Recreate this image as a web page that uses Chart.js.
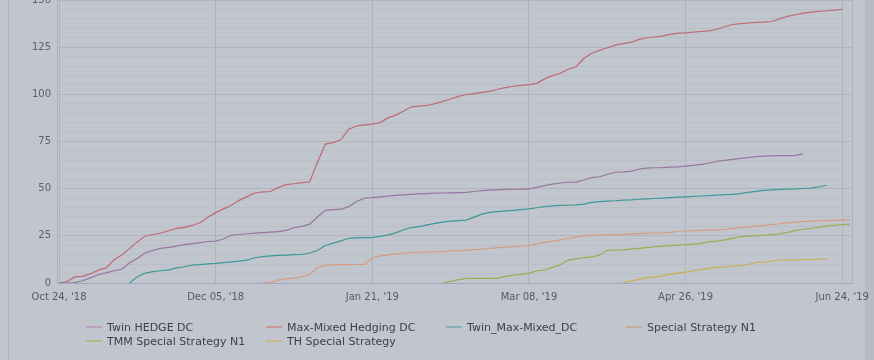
<!DOCTYPE html>
<html>
<head>
<meta charset="utf-8">
<script src="https://cdn.jsdelivr.net/npm/chart.js@4.4.1/dist/chart.umd.min.js"></script>
<style>
html, body { margin: 0; padding: 0; background: #c1c5ce; width: 874px; height: 360px; overflow: hidden; font-family: "DejaVu Sans", sans-serif; }
#wrap { position: absolute; left: 0; top: 0; width: 874px; height: 360px; }
#edgeL { position: absolute; left: 8px; top: 0; width: 1px; height: 360px; background: #afb3bb; }
#edgeR { position: absolute; left: 865px; top: 0; width: 9px; height: 360px; background: #b7bbc3; }
#legend { position: absolute; left: 86px; top: 320px; display: grid; grid-template-columns: 180px 180px 180px 180px; font-size: 11px; color: #3d4148; }
.item { display: flex; align-items: center; height: 14px; white-space: nowrap; }
.sym { width: 16px; height: 2px; margin-right: 5px; }
</style>
</head>
<body>
<div id="edgeL"></div>
<div id="edgeR"></div>
<div id="wrap"><canvas id="myChart" width="874" height="360"></canvas></div>
<div id="legend"></div>
<script>
// x axis: one point per step, a date label every 20 steps
const pointsPerTick = 20;
const tickLabels = ["Oct 24, '18", "Dec 05, '18", "Jan 21, '19", "Mar 08, '19", "Apr 26, '19", "Jun 24, '19"];

const seriesNames = ["Twin HEDGE DC", "Max-Mixed Hedging DC", "Twin_Max-Mixed_DC", "Special Strategy N1", "TMM Special Strategy N1", "TH Special Strategy"];
const lineColors = ["#9676a0", "#bd6a74", "#3d9898", "#d49c80", "#93b050", "#ceae50"];
const legendColors = ["#b8a0c0", "#c89698", "#80b2b6", "#c8aa9a", "#a8be82", "#c8ba80"];

// first step index of each series
const seriesStart = [0, 0, 9, 26, 49, 72];

const twinHedge = [0,0,0.2,1.2,2.7,4.4,5.4,6.5,7.3,10.6,
  13.1,15.9,17.3,18.4,18.9,19.5,20.3,20.9,21.4,22,
  22.2,23.3,25.4,25.7,26.1,26.4,26.7,27,27.2,27.9,
  29.3,30,31.2,35,38.5,38.9,39.2,40.5,43.2,45,
  45.3,45.7,46,46.4,46.7,47,47.2,47.4,47.6,47.7,
  47.8,47.9,48,48.5,49,49.2,49.4,49.6,49.7,49.8,
  49.8,50.7,51.6,52.4,53,53.4,53.5,54.6,55.9,56.3,
  57.5,58.7,58.9,59.2,60.3,60.9,61.1,61.2,61.4,61.6,
  61.9,62.3,62.9,63.6,64.4,65,65.5,66.1,66.5,67,
  67.3,67.4,67.5,67.5,67.6,68.4];

const maxMixed = [0,0.7,3.2,3.5,4.8,6.8,8.0,12.2,14.9,18.2,
  21.8,24.9,25.7,26.5,27.7,29,29.5,30.5,31.9,34.8,
  37.3,39.3,41.2,43.8,45.8,47.7,48.3,48.5,50.7,52.1,
  52.6,53.2,53.6,64,73.6,74.4,76,81.5,83.2,83.8,
  84.2,85,87.5,89,91.2,93.4,93.8,94.1,95.1,96.3,
  97.5,98.9,99.9,100.4,101,101.6,102.7,103.6,104.3,104.7,
  105.1,105.8,108.2,109.9,111.2,113.3,114.5,119,121.8,123.3,
  124.7,126.1,126.9,127.5,129,130,130.4,130.9,131.8,132.4,
  132.6,133,133.3,133.6,134.5,135.8,137,137.5,137.8,138.1,
  138.3,138.6,140,141.3,142.2,143,143.6,144,144.3,144.6,
  145];

const twinMaxMixed = [0,3.3,5.2,6.0,6.5,7.0,8.0,8.6,9.5,9.7,
  10.1,10.4,10.8,11.2,11.6,12.1,13.4,14,14.4,14.6,
  14.8,15.0,15.1,15.9,17.2,19.9,21.1,22.3,23.7,23.9,
  24,24.1,24.7,25.5,26.6,28.2,29.4,29.9,30.8,31.6,
  32.3,32.8,33.1,33.3,34.9,36.5,37.4,37.8,38.2,38.5,
  38.9,39.3,39.9,40.5,40.9,41.1,41.2,41.4,41.8,42.7,
  43.1,43.4,43.6,43.9,44.1,44.4,44.6,44.8,45.0,45.3,
  45.5,45.7,45.9,46.1,46.3,46.6,46.8,47,47.4,48,
  48.6,49.1,49.4,49.6,49.8,49.9,50.1,50.3,50.9,51.8];

const specialN1 = [0,0.3,1.5,2.2,2.6,3.3,4.5,8.2,9.3,9.6,
  9.7,9.7,9.8,9.9,13.5,14.4,14.9,15.4,15.9,16.2,
  16.3,16.4,16.5,16.7,17,17.2,17.4,17.7,18,18.4,
  18.7,19,19.3,19.6,20,20.7,21.5,22.2,22.9,23.6,
  24.3,25,25.4,25.4,25.5,25.5,25.7,26,26.2,26.4,
  26.5,26.6,26.8,27.3,27.7,27.8,27.9,28,28.1,28.5,
  29,29.4,29.8,30.1,30.5,31,31.4,31.9,32.3,32.6,
  32.8,33,33.1,33.2,33.3,33.4];

const tmmSpecialN1 = [0,0.9,1.8,2.4,2.5,2.5,2.5,2.6,3.5,4.1,
  4.6,5.2,6.5,6.9,8.3,9.7,12.1,12.8,13.5,13.8,
  14.8,17.3,17.5,17.6,18,18.4,18.8,19.2,19.5,19.8,
  20.1,20.3,20.6,21,21.9,22.2,22.9,23.7,24.5,24.8,
  25,25.3,25.6,26.1,26.8,27.8,28.5,28.9,29.6,30.3,
  30.6,30.9,31.2];

const thSpecial = [0.2,1.0,1.9,2.7,3.2,3.8,4.6,5.2,5.8,6.5,
  7.1,7.8,8.3,8.6,8.9,9.2,9.8,10.9,11.1,11.6,
  12.2,12.3,12.3,12.4,12.4,12.6,12.8];

const seriesValues = [twinHedge, maxMixed, twinMaxMixed, specialN1, tmmSpecialN1, thSpecial];

function toPoints(values, start) {
  return values.map((v, k) => ({ x: start + k, y: v }));
}

let datasets = [];
for (let s = 0; s < seriesNames.length; s++) {
  datasets.push({
    label: seriesNames[s],
    data: toPoints(seriesValues[s], seriesStart[s]),
    borderColor: lineColors[s],
    borderWidth: 1.2,
    pointRadius: 0,
    tension: 0,
    fill: false
  });
}

// right edge of the plot
const plotEdge = {
  id: 'plotEdge',
  afterDraw(chart) {
    const a = chart.chartArea;
    const ctx = chart.ctx;
    ctx.save();
    ctx.strokeStyle = '#aeb2ba';
    ctx.lineWidth = 1;
    ctx.beginPath();
    ctx.moveTo(Math.round(a.right) + 0.5, a.top);
    ctx.lineTo(Math.round(a.right) + 0.5, a.bottom);
    ctx.stroke();
    ctx.restore();
  }
};

Chart.defaults.font.family = '"DejaVu Sans", sans-serif';

const chart = new Chart(document.getElementById('myChart'), {
  type: 'line',
  data: { datasets: datasets },
  options: {
    responsive: false,
    animation: false,
    layout: { padding: { left: 0, right: 22, top: 0, bottom: 49 } },
    plugins: { legend: { display: false }, tooltip: { enabled: false } },
    scales: {
      x: {
        type: 'linear',
        min: -0.26,
        max: 101.25,
        afterBuildTicks(scale) {
          scale.ticks = tickLabels.map((t, i) => ({ value: i * pointsPerTick }));
        },
        afterFit(scale) {
          scale.paddingLeft = 0;
          scale.paddingRight = 0;
        },
        ticks: {
          color: '#555a62',
          font: { size: 10 },
          padding: 8,
          maxRotation: 0,
          autoSkip: false,
          callback: (v) => tickLabels[Math.round(v / pointsPerTick)]
        },
        grid: { color: '#b0b4bc', drawTicks: false },
        border: { display: true, color: '#9ea7c0' }
      },
      y: {
        min: 0,
        max: 150,
        afterFit(scale) {
          scale.width = 57;
          scale.paddingTop = 0;
          scale.paddingBottom = 0;
        },
        ticks: {
          stepSize: 5,
          autoSkip: false,
          color: '#5c6068',
          font: { size: 10 },
          padding: 6,
          callback: (v) => (v % 25 === 0 ? v : '')
        },
        grid: {
          drawTicks: false,
          color: (c) => (c.tick && c.tick.value % 25 === 0 ? '#b0b4bc' : '#babec7')
        },
        border: { display: true, color: '#aeb2ba' }
      }
    }
  },
  plugins: [plotEdge]
});

// legend in fixed-width columns
const legend = document.getElementById('legend');
for (let s = 0; s < seriesNames.length; s++) {
  const item = document.createElement('div');
  item.className = 'item';
  const sym = document.createElement('span');
  sym.className = 'sym';
  sym.style.background = legendColors[s];
  const txt = document.createElement('span');
  txt.textContent = seriesNames[s];
  item.appendChild(sym);
  item.appendChild(txt);
  legend.appendChild(item);
}
</script>
</body>
</html>
